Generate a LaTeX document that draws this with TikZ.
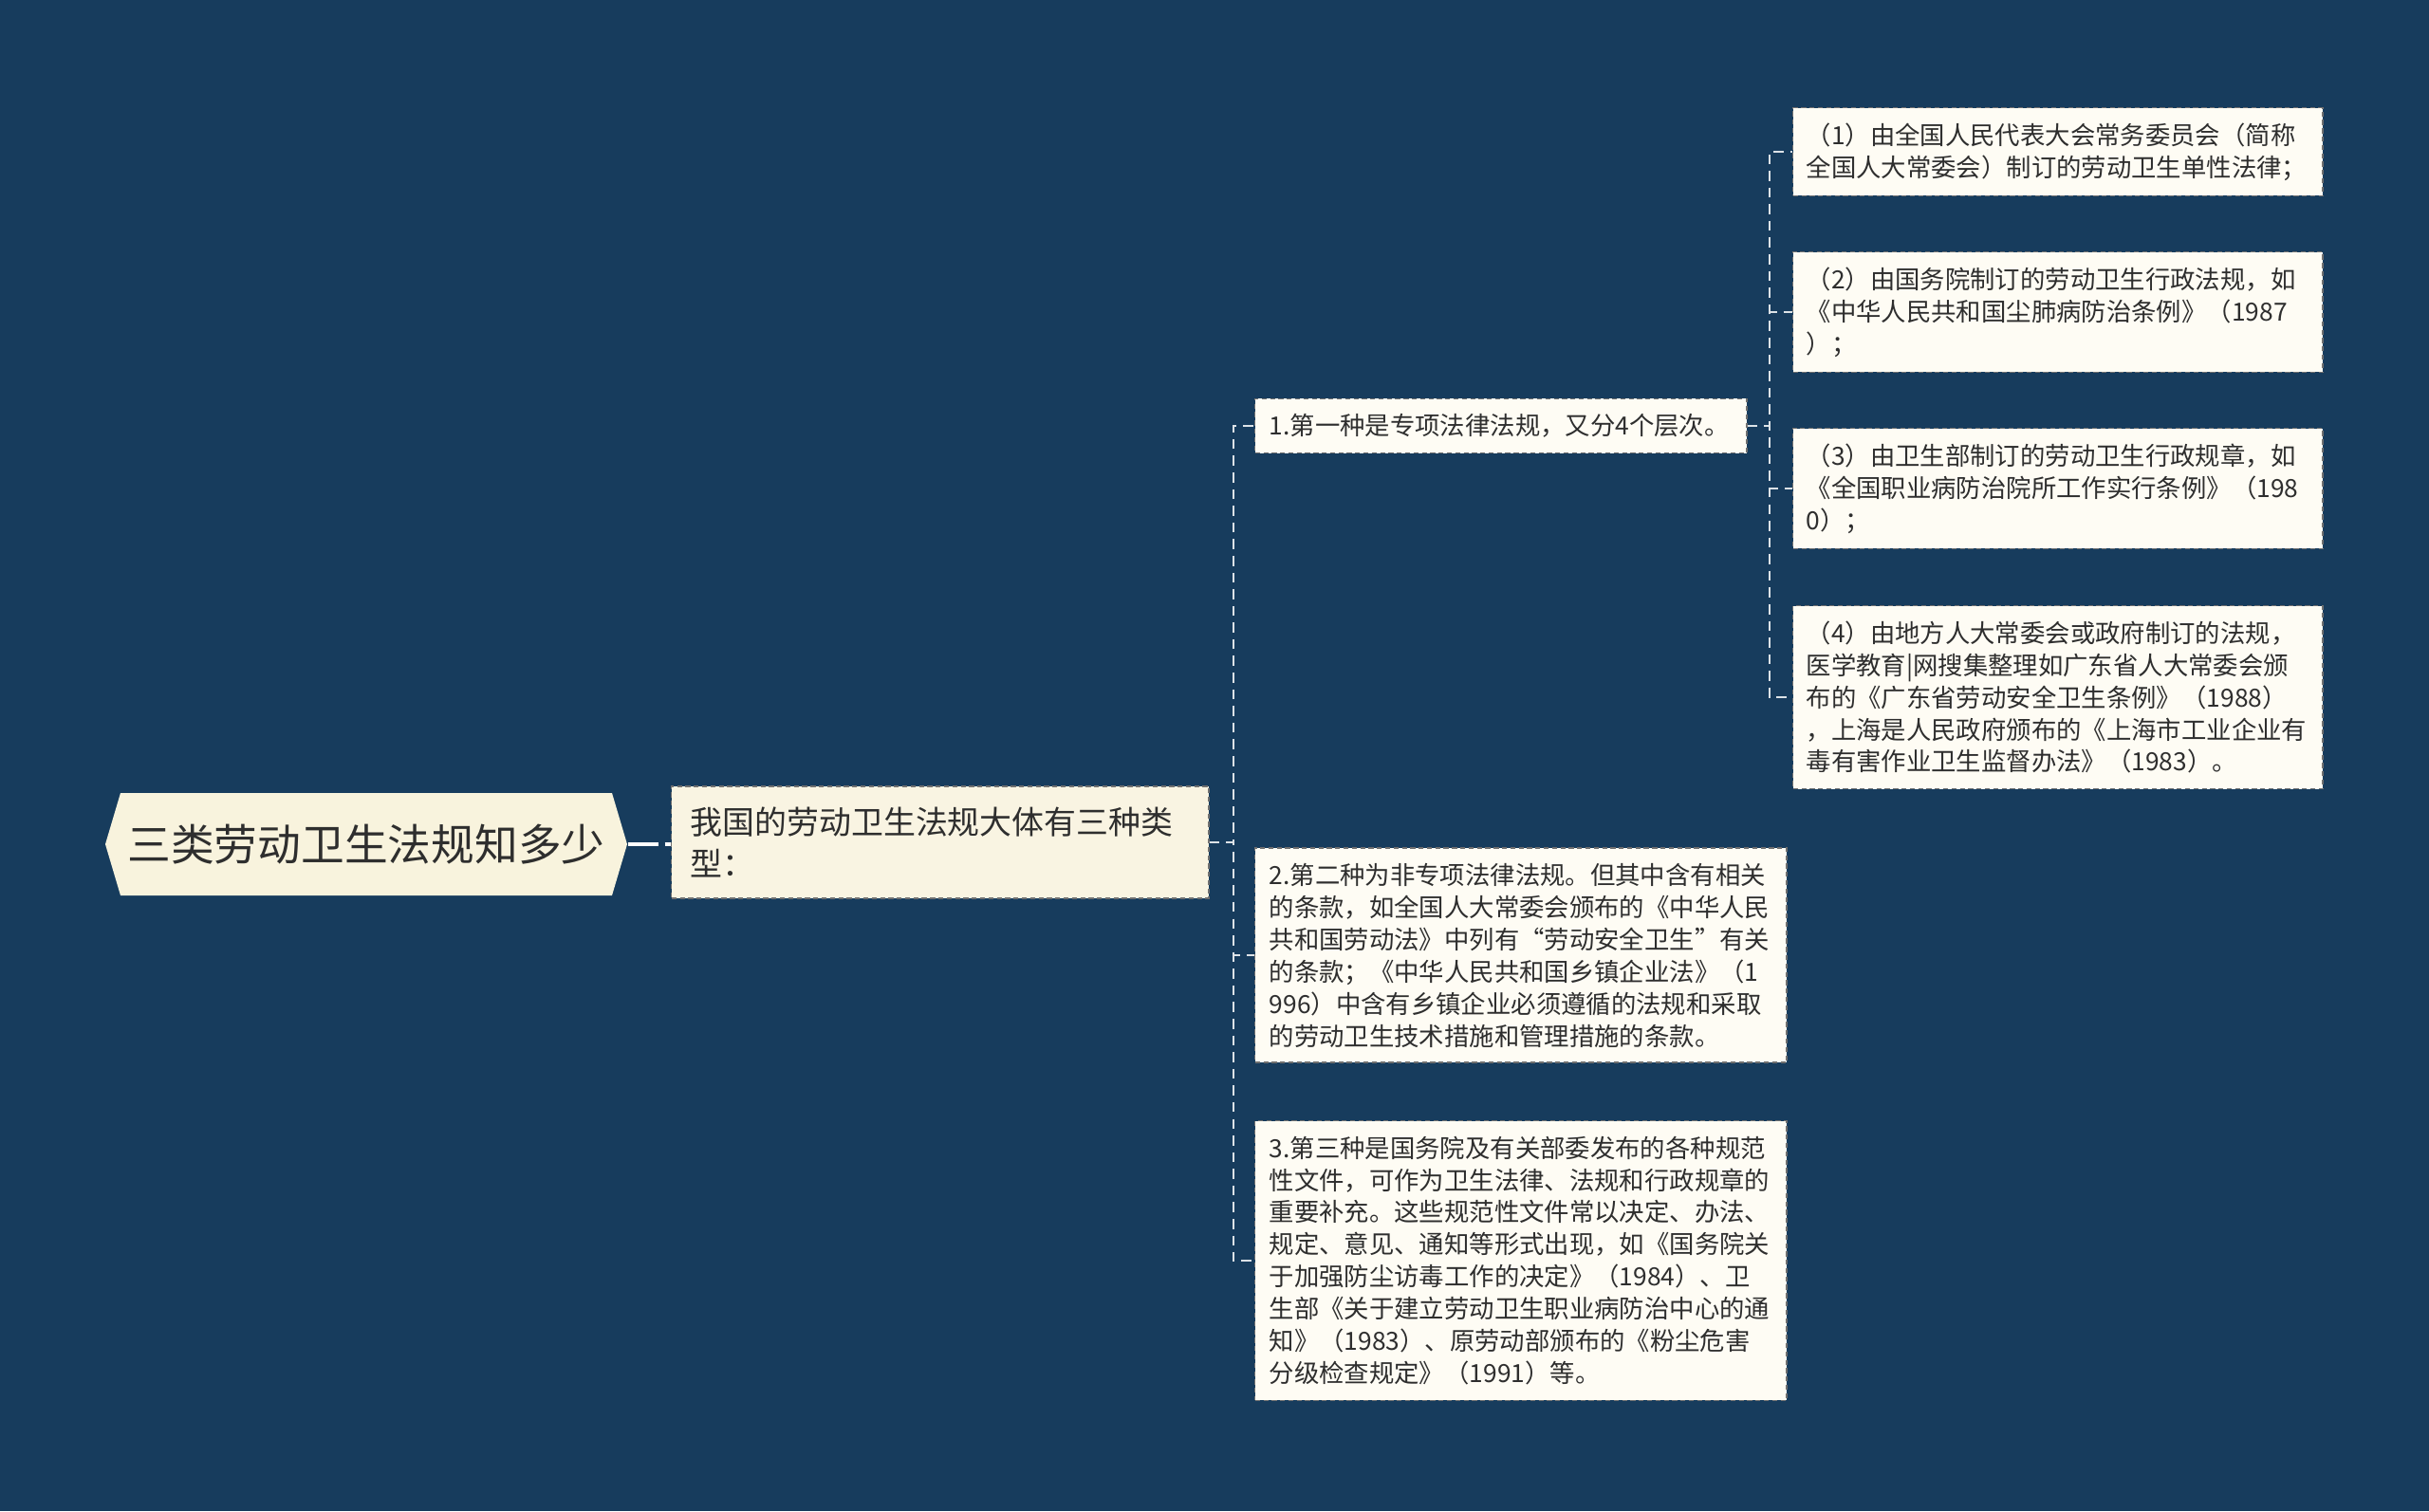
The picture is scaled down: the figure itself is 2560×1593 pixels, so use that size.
\documentclass[tikz,border=0pt]{standalone}
\usepackage{fontspec}
\setmainfont{Noto Sans CJK SC}
\usepackage{xcolor}
\usepackage{tikz}
\usetikzlibrary{positioning, calc}
\definecolor{bgblue}{HTML}{173C5D}
\definecolor{rootfill}{HTML}{F8F3DD}
\definecolor{typefill}{HTML}{F9F4E2}
\definecolor{leaffill}{HTML}{FEFCF4}
\definecolor{inkgray}{HTML}{2E2E2E}
\definecolor{edgegray}{HTML}{707070}

\begin{document}
\begin{tikzpicture}[x=0.01cm, y=-0.01cm,
    link/.style={draw=white!85!bgblue, line width=0.6pt, dash pattern=on 3pt off 2pt},
    rootlink/.style={draw=white, line width=1.2pt, dash pattern=on 9pt off 2pt},
    leafbox/.style={draw=edgegray, line width=0.4pt, dash pattern=on 1.5pt off 1pt, fill=leaffill, text=inkgray,
        anchor=west, align=left, text width=5.3cm, inner xsep=0.14cm, inner ysep=0.16cm,
        font=\fontsize{7.5pt}{9.66pt}\selectfont},
    typebox/.style={leafbox, fill=typefill, text width=5.26cm, inner xsep=0.2cm, inner ysep=0.22cm,
        font=\fontsize{9.64pt}{12.5pt}\selectfont}]
    \fill[bgblue] (0,0) rectangle (2560,1593);

    % root hexagon
    \fill[rootfill] (111,890) -- (127,836) -- (645,836) -- (661,890) -- (645,944) -- (127,944) -- cycle;
    \node[text=inkgray, minimum width=5.5cm, minimum height=1.08cm, inner sep=0pt,
        font=\fontsize{13pt}{16pt}\selectfont] (root) at (386,890) {三类劳动卫生法规知多少};

    \node[typebox] (types) at (707,888) {我国的劳动卫生法规大体有三种类\\型：};

    % three kinds
    \node[leafbox, text width=4.88cm, inner xsep=0.15cm] (kind1) at (1322,449) {1.第一种是专项法律法规，又分4个层次。};
    \node[leafbox, inner xsep=0.15cm] (kind2) at (1322,1007) {2.第二种为非专项法律法规。但其中含有相关\\的条款，如全国人大常委会颁布的《中华人民\\共和国劳动法》中列有“劳动安全卫生”有关\\的条款；《中华人民共和国乡镇企业法》（1\\996）中含有乡镇企业必须遵循的法规和采取\\的劳动卫生技术措施和管理措施的条款。};
    \node[leafbox, inner xsep=0.15cm] (kind3) at (1322,1329) {3.第三种是国务院及有关部委发布的各种规范\\性文件，可作为卫生法律、法规和行政规章的\\重要补充。这些规范性文件常以决定、办法、\\规定、意见、通知等形式出现，如《国务院关\\于加强防尘访毒工作的决定》（1984）、卫\\生部《关于建立劳动卫生职业病防治中心的通\\知》（1983）、原劳动部颁布的《粉尘危害\\分级检查规定》（1991）等。};

    % four levels of the first kind
    \node[leafbox] (level1) at (1889,160) {（1）由全国人民代表大会常务委员会（简称\\全国人大常委会）制订的劳动卫生单性法律；};
    \node[leafbox] (level2) at (1889,329) {（2）由国务院制订的劳动卫生行政法规，如\\《中华人民共和国尘肺病防治条例》（1987\\）；};
    \node[leafbox] (level3) at (1889,515) {（3）由卫生部制订的劳动卫生行政规章，如\\《全国职业病防治院所工作实行条例》（198\\0）；};
    \node[leafbox] (level4) at (1889,735) {（4）由地方人大常委会或政府制订的法规，\\医学教育|网搜集整理如广东省人大常委会颁\\布的《广东省劳动安全卫生条例》（1988）\\，上海是人民政府颁布的《上海市工业企业有\\毒有害作业卫生监督办法》（1983）。};

    % connectors
    \draw[rootlink] (root.east) -- (types.west |- root.east);
    \foreach \k in {kind1, kind2, kind3}
        \draw[link] (types.east) -- ++(25,0) |- (\k.west);
    \foreach \l in {level1, level2, level3, level4}
        \draw[link] (kind1.east) -- ++(23,0) |- (\l.west);
\end{tikzpicture}
\end{document}
